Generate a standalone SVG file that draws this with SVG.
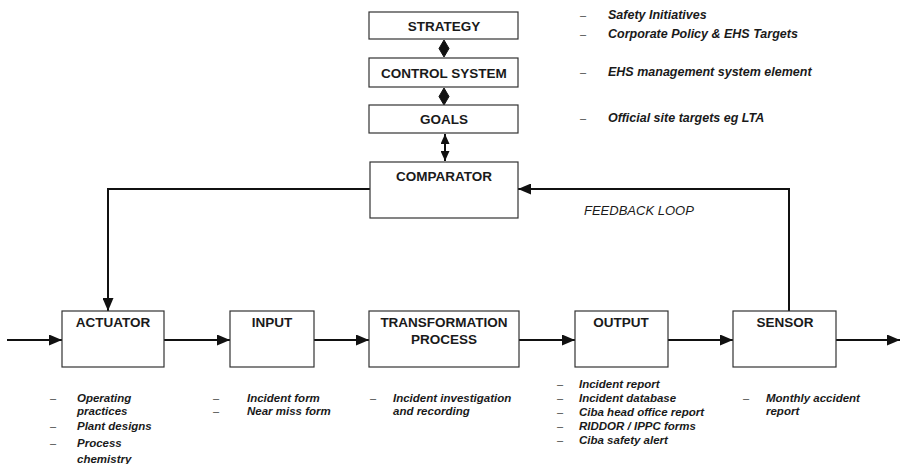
<svg xmlns="http://www.w3.org/2000/svg" width="902" height="464" viewBox="0 0 902 464">
<defs>
<marker id="ah" viewBox="0 0 13 11" refX="13" refY="5.5" markerWidth="13" markerHeight="11" markerUnits="userSpaceOnUse" orient="auto-start-reverse">
<path d="M0,0 L13,5.5 L0,11 z" fill="#111"/>
</marker>
<marker id="ahs" viewBox="0 0 10 9" refX="10" refY="4.5" markerWidth="10" markerHeight="9" markerUnits="userSpaceOnUse" orient="auto-start-reverse">
<path d="M0,0 L10,4.5 L0,9 z" fill="#111"/>
</marker>
</defs>
<style>
.box{fill:#fff;stroke:#333;stroke-width:1.2}
.lbl{font-family:"Liberation Sans",Arial,sans-serif;font-weight:bold;font-size:13.5px;fill:#1a1a1a;text-anchor:middle}
.note{font-family:"Liberation Sans",Arial,sans-serif;font-weight:bold;font-style:italic;font-size:12.5px;fill:#1a1a1a}
.bn{font-family:"Liberation Sans",Arial,sans-serif;font-weight:bold;font-style:italic;font-size:11.5px;fill:#1a1a1a}
.dash{font-family:"Liberation Sans",Arial,sans-serif;font-size:11px;fill:#444}
.fb{font-family:"Liberation Sans",Arial,sans-serif;font-style:italic;font-size:13px;fill:#1a1a1a}
.ln{fill:none;stroke:#111;stroke-width:2}
.dm{fill:#111;stroke:#111;stroke-width:1}
</style>
<rect width="902" height="464" fill="#fff"/>
<g id="connectors">
<path class="dm" d="M444,40 L449,48.5 L444,57 L439,48.5 Z"/>
<path class="dm" d="M444,88 L449,96.5 L444,105 L439,96.5 Z"/>
<line class="ln" x1="445" y1="134" x2="445" y2="161" marker-start="url(#ahs)" marker-end="url(#ahs)"/>
<polyline class="ln" points="370,189 108,189 108,311" marker-end="url(#ah)"/>
<polyline class="ln" points="789,311 789,189 518,189" marker-end="url(#ah)"/>
<line class="ln" x1="7" y1="340" x2="62" y2="340" marker-end="url(#ah)"/>
<line class="ln" x1="164" y1="340" x2="230" y2="340" marker-end="url(#ah)"/>
<line class="ln" x1="314" y1="340" x2="369" y2="340" marker-end="url(#ah)"/>
<line class="ln" x1="519" y1="340" x2="575" y2="340" marker-end="url(#ah)"/>
<line class="ln" x1="668" y1="340" x2="733" y2="340" marker-end="url(#ah)"/>
<line class="ln" x1="836" y1="340" x2="900" y2="340" marker-end="url(#ah)"/>
</g>
<g id="strategy"><rect class="box" x="369" y="12" width="149" height="27"/><text class="lbl" x="444" y="30.5">STRATEGY</text></g>
<g id="control"><rect class="box" x="369" y="58" width="149" height="29"/><text class="lbl" x="444" y="77.5">CONTROL SYSTEM</text></g>
<g id="goals"><rect class="box" x="369" y="105" width="149" height="28"/><text class="lbl" x="444" y="123.5">GOALS</text></g>
<g id="comparator"><rect class="box" x="370" y="162" width="148" height="56"/><text class="lbl" x="444" y="181">COMPARATOR</text></g>
<g id="actuator"><rect class="box" x="62" y="311" width="102" height="56"/><text class="lbl" x="113" y="327">ACTUATOR</text></g>
<g id="input"><rect class="box" x="230" y="311" width="84" height="56"/><text class="lbl" x="272" y="327">INPUT</text></g>
<g id="transformation"><rect class="box" x="369" y="311" width="150" height="56"/><text class="lbl" x="444" y="327">TRANSFORMATION</text><text class="lbl" x="444" y="344">PROCESS</text></g>
<g id="output"><rect class="box" x="575" y="311" width="93" height="56"/><text class="lbl" x="621" y="327">OUTPUT</text></g>
<g id="sensor"><rect class="box" x="733" y="311" width="103" height="56"/><text class="lbl" x="785" y="327">SENSOR</text></g>
<g id="notes-top">
<text class="dash" x="580" y="19">–</text><text class="note" x="608" y="19">Safety Initiatives</text>
<text class="dash" x="580" y="38">–</text><text class="note" x="608" y="38">Corporate Policy &amp; EHS Targets</text>
<text class="dash" x="580" y="76">–</text><text class="note" x="608" y="76">EHS management system element</text>
<text class="dash" x="580" y="122">–</text><text class="note" x="608" y="122">Official site targets eg LTA</text>
</g>
<text class="fb" x="584" y="215">FEEDBACK LOOP</text>
<g id="notes-bottom">
<text class="dash" x="50" y="402">–</text><text class="bn" x="77" y="402">Operating</text><text class="bn" x="77" y="415">practices</text>
<text class="dash" x="50" y="430">–</text><text class="bn" x="77" y="430">Plant designs</text>
<text class="dash" x="50" y="447">–</text><text class="bn" x="77" y="447">Process</text><text class="bn" x="77" y="463">chemistry</text>
<text class="dash" x="213" y="402">–</text><text class="bn" x="247" y="402">Incident form</text>
<text class="dash" x="213" y="415">–</text><text class="bn" x="247" y="415">Near miss form</text>
<text class="dash" x="370" y="402">–</text><text class="bn" x="393" y="402">Incident investigation</text><text class="bn" x="393" y="415">and recording</text>
<text class="dash" x="557" y="388">–</text><text class="bn" x="579" y="388">Incident report</text>
<text class="dash" x="557" y="402">–</text><text class="bn" x="579" y="402">Incident database</text>
<text class="dash" x="557" y="416">–</text><text class="bn" x="579" y="416">Ciba head office report</text>
<text class="dash" x="557" y="430">–</text><text class="bn" x="579" y="430">RIDDOR / IPPC forms</text>
<text class="dash" x="557" y="444">–</text><text class="bn" x="579" y="444">Ciba safety alert</text>
<text class="dash" x="743" y="402">–</text><text class="bn" x="766" y="402">Monthly accident</text><text class="bn" x="766" y="415">report</text>
</g>
</svg>
